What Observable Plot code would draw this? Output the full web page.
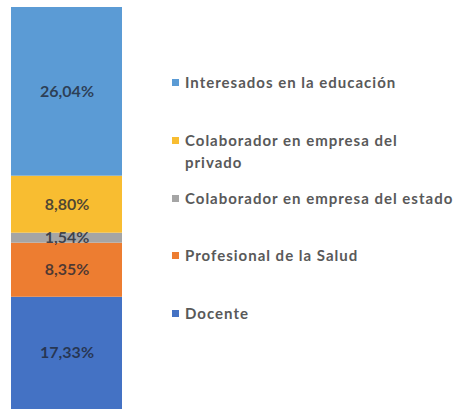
<!DOCTYPE html>
<html>
<head>
<meta charset="utf-8">
<script src="https://cdn.jsdelivr.net/npm/d3@7"></script>
<script src="https://cdn.jsdelivr.net/npm/@observablehq/plot@0.6"></script>
<style>
  html, body { margin: 0; padding: 0; background: #fff; }
  #wrap { position: relative; width: 461px; height: 409px; overflow: hidden; }
  #legend { position: absolute; left: 0; top: 0; width: 461px; height: 409px; pointer-events: none;
            font-family: Lato, "Open Sans", sans-serif; font-weight: 700; font-size: 15px; color: #595959; letter-spacing: 1px; }
  .item { position: absolute; left: 172px; width: 289px; display: flex; align-items: flex-start; line-height: 22px; }
  .sw { width: 7px; height: 7px; flex: none; margin-top: 8px; margin-right: 6px; }
  .lbl { width: 273px; }
</style>
</head>
<body>
<div id="wrap"><div id="chart"></div><div id="legend"></div></div>
<script>
const categories = ["Docente", "Profesional de la Salud", "Colaborador en empresa del estado", "Colaborador en empresa del privado", "Interesados en la educación"];
const values = [17.33, 8.35, 1.54, 8.80, 26.04];
const labels = ["17,33%", "8,35%", "1,54%", "8,80%", "26,04%"];
const colors = ["#4472c4", "#ed7d31", "#a5a5a5", "#f8bd31", "#5b9bd5"];

const data = categories.map((c, i) => ({category: c, value: values[i], label: labels[i]}));
const total = d3.sum(values);

const chart = Plot.plot({
  width: 461,
  height: 409,
  marginLeft: 11,
  marginRight: 339,
  marginTop: 7,
  marginBottom: 0,
  style: {background: "#fff", fontFamily: "Lato, 'Open Sans', sans-serif"},
  x: {axis: null, domain: [""], padding: 0},
  y: {axis: null, domain: [0, total]},
  color: {domain: categories, range: colors},
  marks: [
    Plot.barY(data, {x: () => "", y: "value", fill: "category"}),
    Plot.text(data, Plot.stackY({x: () => "", y: "value", text: "label", fill: "#1f2633", fillOpacity: 0.78, fontSize: 16, fontWeight: 700}))
  ]
});
document.getElementById("chart").appendChild(chart);

// legend: entries listed top-to-bottom in reverse stack order, evenly spaced
const legend = document.getElementById("legend");
const firstCenter = 82, step = 57.75;
categories.slice().reverse().forEach((c, i) => {
  const item = document.createElement("div");
  item.className = "item";
  item.style.top = (firstCenter + i * step - 11) + "px";
  const sw = document.createElement("div");
  sw.className = "sw";
  sw.style.background = colors[categories.indexOf(c)];
  const lbl = document.createElement("div");
  lbl.className = "lbl";
  lbl.textContent = c;
  item.appendChild(sw);
  item.appendChild(lbl);
  legend.appendChild(item);
});
</script>
</body>
</html>
